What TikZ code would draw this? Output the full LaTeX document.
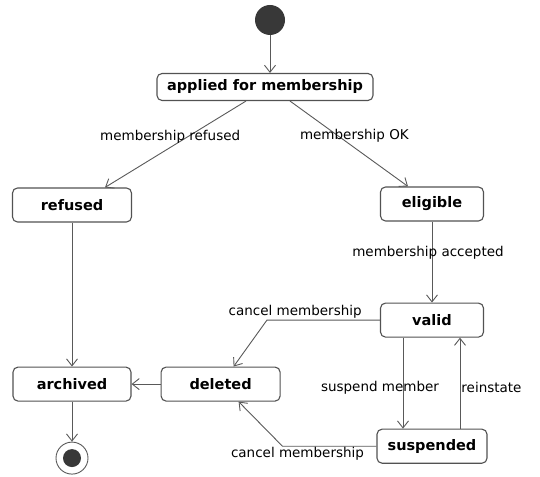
\documentclass[tikz,border=0pt]{standalone}
\usepackage{fontspec}
\setmainfont{DejaVu Sans}
\usetikzlibrary{arrows.meta, positioning, calc}

\begin{document}
\begin{tikzpicture}[
  x=1pt, y=1pt,
  node distance=30pt,
  every node/.style={font=\fontsize{13.5}{16}\selectfont},
  state/.style={rectangle, rounded corners=5pt, draw=black!68, line width=1.1pt, fill=white,
    minimum width=#1, minimum height=34pt, inner sep=0pt, font=\fontsize{14.5}{17}\selectfont\bfseries},
  state/.default=110pt,
  initial/.style={circle, fill=black!78, minimum size=30pt, inner sep=0pt},
  final/.style={circle, draw=black!65, line width=0.9pt, minimum size=32pt, inner sep=0pt,
    path picture={\fill[black!78] (path picture bounding box.center) circle (9pt);}},
  arr/.style={-{Straight Barb[length=7pt, width=11pt]}, line width=0.9pt, black!65},
  lbl/.style={inner sep=1pt, text=black}
]
\useasboundingbox (0,0) rectangle (540,476);

% ===== STATES =====
\node[initial] (start) at (270,456) {};
\node[state=216pt, minimum height=27pt] (applied) at (265,389) {applied for membership};
\node[state=119pt] (refused) at (72,271) {refused};
\node[state=103pt] (eligible) at (432,272) {eligible};
\node[state=103pt, below=81pt of eligible] (valid) {valid};
\node[state=110pt, below=91pt of valid] (suspended) {suspended};
\node[state=118pt, below=144pt of refused] (archived) {archived};
\node[state=119pt, right=29pt of archived] (deleted) {deleted};
\node[final, below=40pt of archived] (end) {};

% ===== TRANSITIONS =====
\draw[arr] (start) -- (start |- applied.north);
\draw[arr] ([xshift=-19pt]applied.south) -- node[lbl, pos=0.41, xshift=-18pt] {membership refused} ([xshift=33pt]refused.north);
\draw[arr] ([xshift=25pt]applied.south) -- node[lbl, pos=0.41, xshift=16pt] {membership OK} ([xshift=-24pt]eligible.north);
\draw[arr] (eligible) -- node[lbl, pos=0.38, xshift=-4pt] {membership accepted} (valid);
\draw[arr] (valid.west) -- node[lbl, pos=0.75, above] {cancel membership} ++(-113pt,0) -- ([xshift=13pt]deleted.north);
\draw[arr] ([xshift=-29pt]valid.south) -- node[lbl, pos=0.55, xshift=-23pt] {suspend member} ([xshift=-29pt]suspended.north);
\draw[arr] ([xshift=28pt]suspended.north) -- node[lbl, pos=0.45, right] {reinstate} ([xshift=28pt]valid.south);
\draw[arr] (suspended.west) -- node[lbl, pos=0.84, below] {cancel membership} ++(-94pt,0) -- ([xshift=18pt]deleted.south);
\draw[arr] (deleted) -- (archived);
\draw[arr] (refused) -- (archived);
\draw[arr] (archived) -- (end);
\end{tikzpicture}
\end{document}
